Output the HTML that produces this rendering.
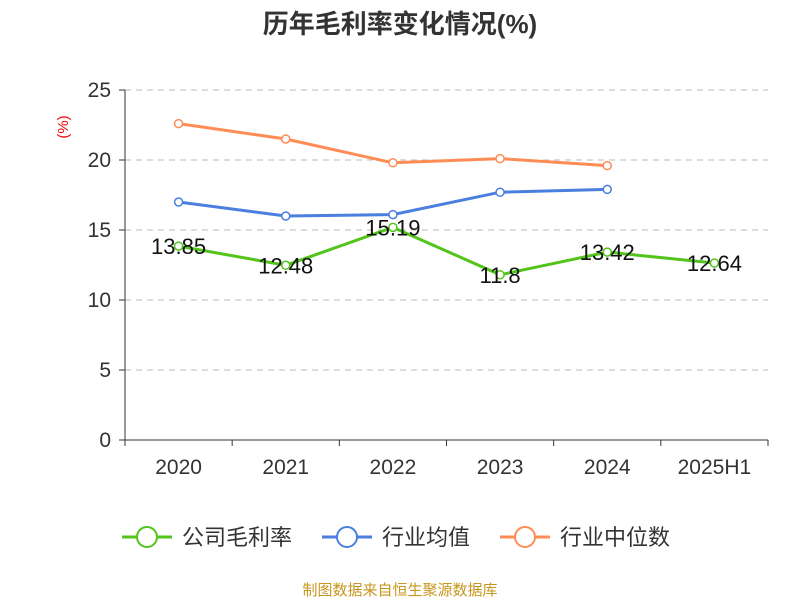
<!DOCTYPE html>
<html><head><meta charset="utf-8"><style>
body{margin:0;background:#fff;}
svg text{font-family:"Liberation Sans","Noto Sans CJK SC",sans-serif;}
</style></head><body>
<svg width="800" height="600" xmlns="http://www.w3.org/2000/svg" id="chart">
<text x="400" y="33" text-anchor="middle" font-size="26" font-weight="bold" fill="#333">历年毛利率变化情况(%)</text>
<text x="0" y="0" transform="translate(68,127) rotate(-90)" text-anchor="middle" font-size="15" fill="#e00">(%)</text>
<g id="grid"></g><g id="axes"></g><g id="series"></g>
<g>
<g><line x1="122" y1="537" x2="172" y2="537" stroke="#52c41a" stroke-width="3"/><circle cx="147" cy="537" r="10" fill="#fff" stroke="#52c41a" stroke-width="2"/><text x="182" y="545" font-size="22" fill="#333">公司毛利率</text></g>
<g><line x1="322" y1="537" x2="372" y2="537" stroke="#4a7fdf" stroke-width="3"/><circle cx="347" cy="537" r="10" fill="#fff" stroke="#4a7fdf" stroke-width="2"/><text x="382" y="545" font-size="22" fill="#333">行业均值</text></g>
<g><line x1="500" y1="537" x2="550" y2="537" stroke="#ff8c55" stroke-width="3"/><circle cx="525" cy="537" r="10" fill="#fff" stroke="#ff8c55" stroke-width="2"/><text x="560" y="545" font-size="22" fill="#333">行业中位数</text></g>
</g>
<text x="400" y="595" text-anchor="middle" font-size="15" fill="#c8961e">制图数据来自恒生聚源数据库</text>
</svg>
<script>
const categories=["2020","2021","2022","2023","2024","2025H1"];
const companyValues=[13.85,12.48,15.19,11.8,13.42,12.64];
const industryAvg=[17.0,16.0,16.1,17.7,17.9];
const industryMedian=[22.6,21.5,19.8,20.1,19.6];
const yTicks=[0,5,10,15,20,25];
const NS="http://www.w3.org/2000/svg";
const L=125,R=768,T=90,B=440,yMax=25;
const band=(R-L)/categories.length;
const x=i=>L+band*(i+0.5);
const y=v=>B-(v/yMax)*(B-T);
function mk(tag,attrs,parent,text){const e=document.createElementNS(NS,tag);for(const k in attrs)e.setAttribute(k,attrs[k]);if(text!=null)e.textContent=text;parent.appendChild(e);return e;}
const grid=document.getElementById('grid'),axes=document.getElementById('axes'),ser=document.getElementById('series');
yTicks.forEach(t=>{
 if(t>0){const g=mk('line',{x1:L,x2:R,y1:y(t),y2:y(t),stroke:'#bbb','stroke-dasharray':'6,5'},grid);
 
 }
 const tk=mk('line',{x1:L-6,x2:L,y1:y(t),y2:y(t),stroke:'#333'},axes);
 
 
 const lb=mk('text',{x:L-14,y:y(t)+7,'text-anchor':'end','font-size':21,fill:'#333'},axes,t);
 
 
});
const ya=mk('line',{x1:L,x2:L,y1:T,y2:B,stroke:'#333'},axes);


const xa=mk('line',{x1:L,x2:R,y1:B,y2:B,stroke:'#333'},axes);


for(let i=0;i<=categories.length;i++){const t=mk('line',{x1:L+band*i,x2:L+band*i,y1:B,y2:B+6,stroke:'#333'},axes);
 
 }
categories.forEach((c,i)=>{const t=mk('text',{x:x(i),y:B+34,'text-anchor':'middle','font-size':21,fill:'#333'},axes,c);
 
 });
function series(vals,color,name,labels){
 const g=mk('g',{},ser);
 
 
 const pl=mk('polyline',{points:vals.map((v,i)=>x(i)+','+y(v)).join(' '),fill:'none',stroke:color,'stroke-width':3},g);
 
 
 vals.forEach((v,i)=>{const c=mk('circle',{cx:x(i),cy:y(v),r:4,fill:'#fff',stroke:color,'stroke-width':1.5},g);
  
  
  if(labels){const t=mk('text',{x:x(i),y:y(v)+8,'text-anchor':'middle','font-size':22,fill:'#111'},g,String(v));
  
  }
 });
}
series(industryMedian,'#ff8c55','industry-median-series',false);
series(industryAvg,'#4a7fdf','industry-average-series',false);
series(companyValues,'#52c41a','company-margin-series',true);
</script>
</body></html>
